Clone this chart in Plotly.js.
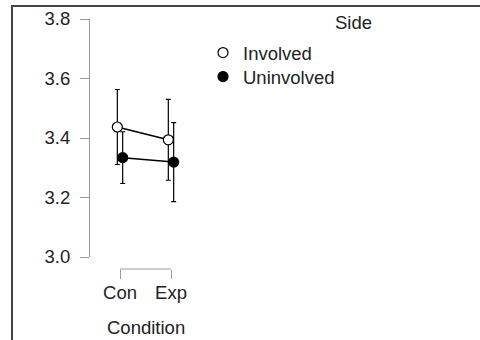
<!DOCTYPE html>
<html>
<head>
<meta charset="utf-8">
<script src="https://cdn.plot.ly/plotly-3.0.1.min.js"></script>
<style>
  html, body { margin: 0; padding: 0; background: #fff; }
  #chart { position: absolute; left: 0; top: 0; width: 480px; height: 340px; }
  #frame { position: absolute; left: 11px; top: 5px; width: 520px; height: 400px;
           border-top: 2px solid #444; border-left: 2px solid #444; pointer-events: none; }
</style>
</head>
<body>
<div id="chart"></div>
<div id="frame"></div>
<script>
// Data
const categories = ["Con", "Exp"];
const involvedMean = [3.437, 3.394];
const involvedErr = [0.126, 0.136];
const uninvolvedMean = [3.334, 3.319];
const uninvolvedErr = [0.087, 0.133];
const seriesNames = ["Involved", "Uninvolved"];
const yTicks = [3.0, 3.2, 3.4, 3.6, 3.8];
const yTickText = ["3.0", "3.2", "3.4", "3.6", "3.8"];
const xTitle = "Condition";
const legendTitle = "Side";

const font = "Liberation Sans, Arial, sans-serif";
const fs = 18.5;
const textColor = "#222222";
const axisColor = "#9a9a9a";

function lineTrace(name, y) {
  return {
    type: "scatter", mode: "lines", name: name, showlegend: false,
    x: categories, y: y, orientation: "v", offsetgroup: name,
    line: { color: "#000", width: 1.5 }, hoverinfo: "skip"
  };
}
function markerTrace(name, y, err, fill, legendId) {
  return {
    type: "scatter", mode: "markers", name: name, legend: legendId,
    x: categories, y: y, orientation: "v", offsetgroup: name,
    marker: { size: 10, color: fill, line: { color: "#000", width: 1.2 } },
    error_y: { type: "data", array: err, visible: true, color: "#000", thickness: 1.2, width: 2.5 }
  };
}

const traces = [
  lineTrace(seriesNames[0], involvedMean),
  lineTrace(seriesNames[1], uninvolvedMean),
  markerTrace(seriesNames[0], involvedMean, involvedErr, "#ffffff", "legend"),
  markerTrace(seriesNames[1], uninvolvedMean, uninvolvedErr, "#000000", "legend2")
];

const L = 89, R = 20, T = 19, B = 71;
const W = 480 - L - R, H = 340 - T - B;
const conPx = 120, catPx = 51, y0Px = 257;
const py = p => (T + H - p) / H;   // pixel row -> paper y
const px = p => (p - L) / W;       // pixel col -> paper x

const legendBase = {
  xanchor: "left", yanchor: "middle",
  font: { family: font, size: fs, color: textColor },
  bgcolor: "rgba(0,0,0,0)", borderwidth: 0, itemwidth: 30
};

const layout = {
  width: 480, height: 340,
  margin: { l: L, r: R, t: T, b: B, pad: 0 },
  paper_bgcolor: "#fff", plot_bgcolor: "#fff",
  font: { family: font, size: fs, color: textColor },
  showlegend: true,
  scattermode: "group",
  scattergap: 0.79,
  xaxis: {
    type: "category",
    categoryarray: categories,
    range: [-(conPx - L) / catPx, (W - (conPx - L)) / catPx],
    domain: [0, 1],
    anchor: "free", position: 0,
    showline: false,
    ticks: "outside", ticklen: 9, tickcolor: axisColor, tickwidth: 1,
    showgrid: false, zeroline: false,
    tickfont: { family: font, size: fs, color: textColor },
    ticklabelstandoff: -2,
    automargin: false, fixedrange: true
  },
  yaxis: {
    range: [3.0, 3.8],
    domain: [py(y0Px), 1],
    anchor: "free", position: 0,
    tickmode: "array", tickvals: yTicks, ticktext: yTickText,
    showline: true, linecolor: axisColor, linewidth: 1,
    ticks: "outside", ticklen: 9, tickcolor: axisColor, tickwidth: 1,
    showgrid: false, zeroline: false,
    tickfont: { family: font, size: fs, color: textColor },
    ticklabelstandoff: 6,
    automargin: false, fixedrange: true
  },
  legend: Object.assign({}, legendBase, { x: px(203), y: py(53) }),
  legend2: Object.assign({}, legendBase, { x: px(203), y: py(77) }),
  shapes: [{
    type: "line", xref: "x", yref: "paper",
    x0: 0, x1: categories.length - 1, y0: 0, y1: 0,
    line: { color: axisColor, width: 1 }
  }],
  annotations: [{
    text: legendTitle, xref: "paper", yref: "paper",
    x: px(353), y: py(22),
    xanchor: "center", yanchor: "middle", showarrow: false,
    font: { family: font, size: fs, color: textColor }
  }, {
    text: xTitle, xref: "x", yref: "paper",
    x: (categories.length - 1) / 2, y: py(327),
    xanchor: "center", yanchor: "middle", showarrow: false,
    font: { family: font, size: fs, color: textColor }
  }]
};

Plotly.newPlot("chart", traces, layout, { displayModeBar: false, staticPlot: true });
</script>
</body>
</html>
